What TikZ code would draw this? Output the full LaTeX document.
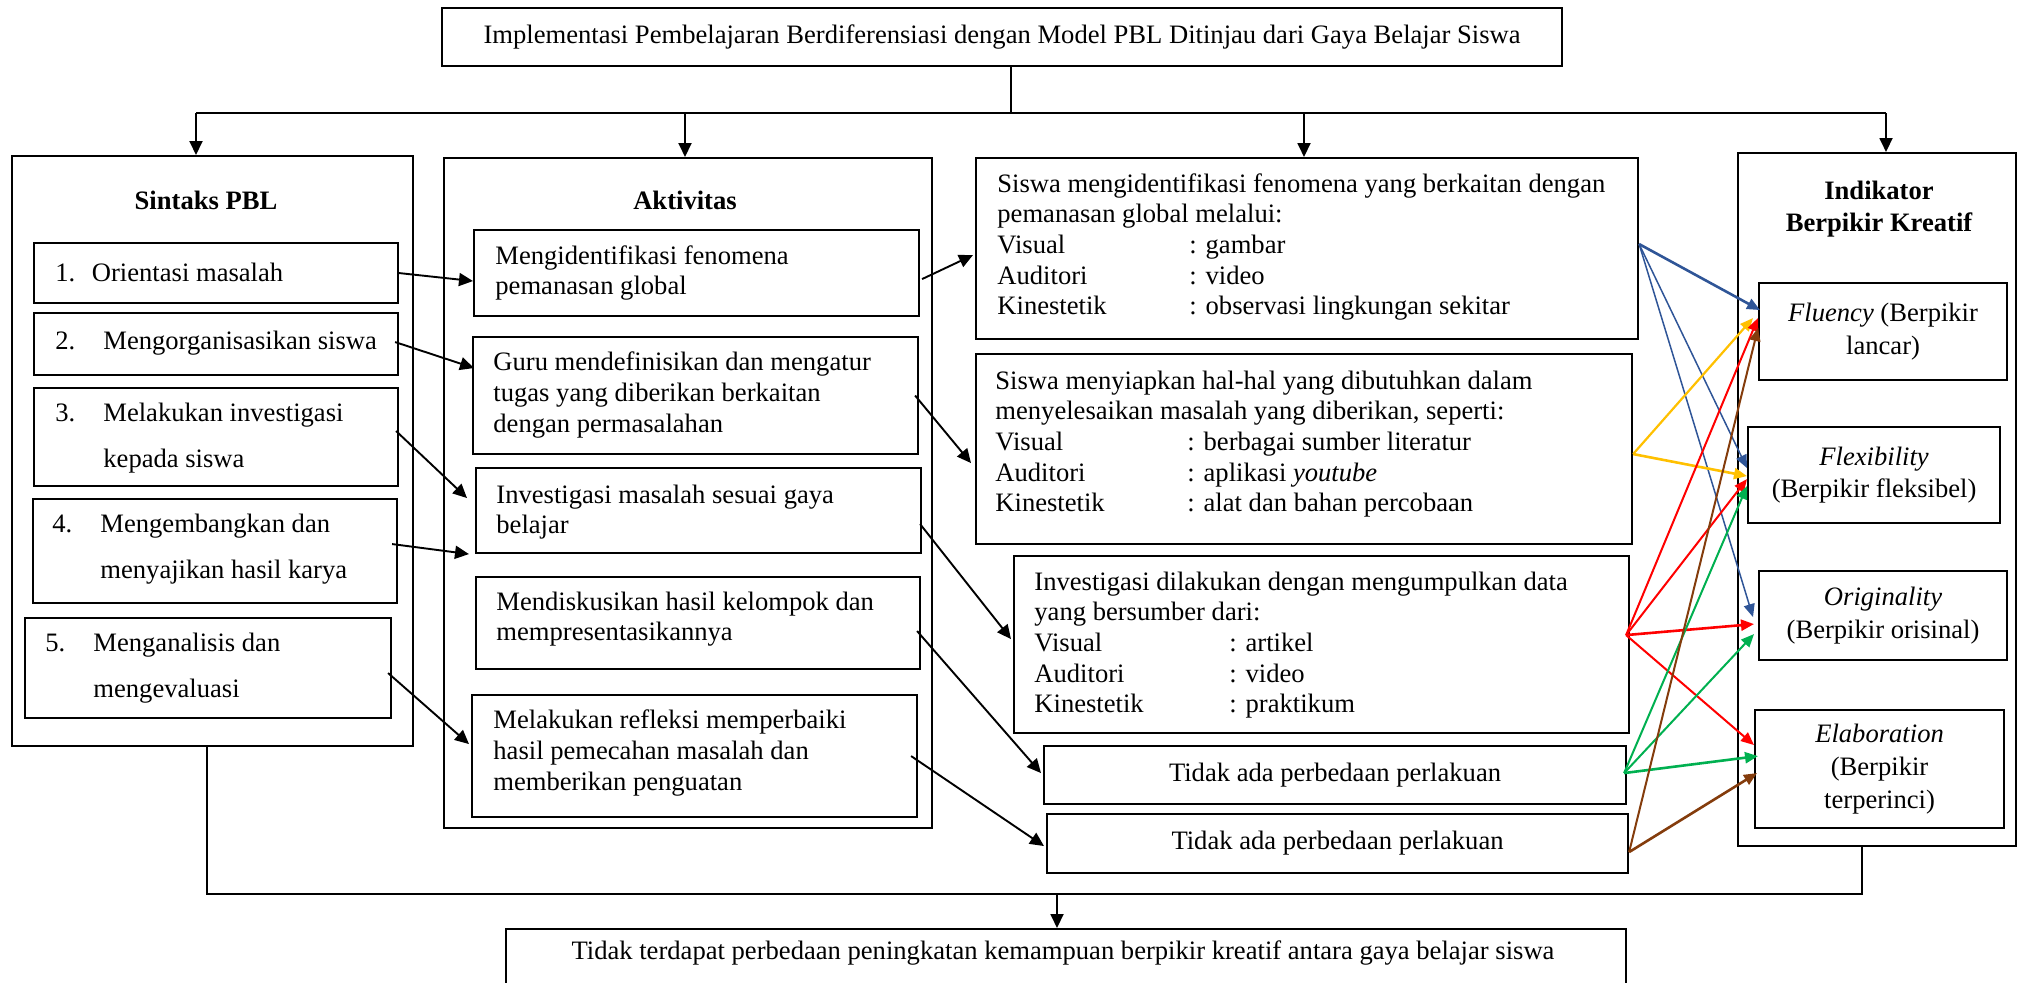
\documentclass[tikz,border=0pt]{standalone}
\usepackage{fontspec}
\setmainfont{Liberation Serif}
\usetikzlibrary{arrows.meta,calc}
\definecolor{cblue}{RGB}{47,85,151}
\definecolor{cyellow}{RGB}{255,192,0}
\definecolor{cred}{RGB}{255,0,0}
\definecolor{cgreen}{RGB}{0,176,80}
\definecolor{cbrown}{RGB}{132,60,12}
\newcommand\gayatab[1]{\makebox[96pt][l]{#1}}
\begin{document}
\begin{tikzpicture}[x=0.5pt,y=-0.5pt,
  every node/.style={font=\fontsize{13.3}{15.3}\selectfont},
  box/.style={draw, line width=1.05pt, anchor=north west, inner sep=0pt, align=center},
  txt/.style={anchor=west, align=left, inner sep=0pt},
  wide/.style={font=\fontsize{13.3}{23}\selectfont},
  ind/.style={font=\fontsize{13.3}{16.3}\selectfont},
  ttl/.style={font=\fontsize{13.3}{16}\selectfont\bfseries, align=center, inner sep=0pt},
  conn/.style={line width=0.9pt},
  arr/.style={-{Triangle[length=7pt,width=6.5pt]}, line width=0.95pt},
  carr/.style={-{Triangle[length=6.5pt,width=5.5pt]}, line width=0.75pt},
  cthk/.style={line width=1.3pt}]
\useasboundingbox (0,0) rectangle (2018,982);

% top box
\node[box, minimum width=560pt, minimum height=29pt] (T) at (441,7)
  {Implementasi Pembelajaran Berdiferensiasi dengan Model PBL Ditinjau dari Gaya Belajar Siswa};

% column containers
\node[box, minimum width=200.5pt, minimum height=295pt] (S) at (11,155) {};
\node[box, minimum width=244pt, minimum height=335pt] (A) at (443,157) {};
\node[box, minimum width=139pt, minimum height=346.5pt] (I) at (1737,152) {};

\node[ttl] (St) at (206,200) {Sintaks PBL};
\node[ttl] (At) at (685,200) {Aktivitas};
\node[ttl] (It) at (1879,209) {Indikator\\Berpikir Kreatif};

% Sintaks boxes
\node[box, minimum width=182pt, minimum height=30pt] (S1) at (33,242) {};
\node[box, minimum width=182pt, minimum height=31pt] (S2) at (33,312) {};
\node[box, minimum width=182pt, minimum height=49pt] (S3) at (33,387) {};
\node[box, minimum width=182pt, minimum height=52pt] (S4) at (32,498) {};
\node[box, minimum width=183pt, minimum height=50pt] (S5) at (24,617) {};
\node[txt] (S1t) at (55,272) {\makebox[18.25pt][l]{1.}Orientasi masalah};
\node[txt] (S2t) at (55,343) {\makebox[24pt][l]{2.}Mengorganisasikan siswa};
\node[txt, wide] (S3t) at (55,438) {\makebox[24pt][l]{3.}Melakukan investigasi\\\hspace*{24pt}kepada siswa};
\node[txt, wide] (S4t) at (52,549) {\makebox[24pt][l]{4.}Mengembangkan dan\\\hspace*{24pt}menyajikan hasil karya};
\node[txt, wide] (S5t) at (45,668) {\makebox[24pt][l]{5.}Menganalisis dan\\\hspace*{24pt}mengevaluasi};

% Aktivitas boxes
\node[box, minimum width=222.5pt, minimum height=43pt] (A1) at (473,229) {};
\node[box, minimum width=222.5pt, minimum height=58.5pt] (A2) at (472,336) {};
\node[box, minimum width=222.5pt, minimum height=42.5pt] (A3) at (475,467) {};
\node[box, minimum width=222pt, minimum height=46pt] (A4) at (475,576) {};
\node[box, minimum width=222.5pt, minimum height=61pt] (A5) at (471,694) {};
\node[txt] (A1t) at (495,273) {Mengidentifikasi fenomena\\pemanasan global};
\node[txt] (A2t) at (493,395) {Guru mendefinisikan dan mengatur\\tugas yang diberikan berkaitan\\dengan permasalahan};
\node[txt] (A3t) at (496,512) {Investigasi masalah sesuai gaya\\belajar};
\node[txt] (A4t) at (496,619) {Mendiskusikan hasil kelompok dan\\mempresentasikannya};
\node[txt] (A5t) at (493,753) {Melakukan refleksi memperbaiki\\hasil pemecahan masalah dan\\memberikan penguatan};

% gaya belajar boxes
\node[box, minimum width=331pt, minimum height=90.5pt] (B1) at (975,157) {};
\node[box, minimum width=328pt, minimum height=95pt] (B2) at (975,353) {};
\node[box, minimum width=307.5pt, minimum height=88.5pt] (B3) at (1013,555) {};
\node[box, minimum width=291pt, minimum height=29pt] (B4) at (1043,745) {Tidak ada perbedaan perlakuan};
\node[box, minimum width=290.5pt, minimum height=29.5pt] (B5) at (1046,813) {Tidak ada perbedaan perlakuan};
\node[txt] (B1t) at (997,247) {Siswa mengidentifikasi fenomena yang berkaitan dengan\\pemanasan global melalui:\\\gayatab{Visual}: gambar\\\gayatab{Auditori}: video\\\gayatab{Kinestetik}: observasi lingkungan sekitar};
\node[txt] (B2t) at (995,444) {Siswa menyiapkan hal-hal yang dibutuhkan dalam\\menyelesaikan masalah yang diberikan, seperti:\\\gayatab{Visual}: berbagai sumber literatur\\\gayatab{Auditori}: aplikasi \textit{youtube}\\\gayatab{Kinestetik}: alat dan bahan percobaan};
\node[txt] (B3t) at (1034,645) {Investigasi dilakukan dengan mengumpulkan data\\yang bersumber dari:\\\makebox[97.5pt][l]{Visual}: artikel\\\makebox[97.5pt][l]{Auditori}: video\\\makebox[97.5pt][l]{Kinestetik}: praktikum};

% indikator boxes
\node[box, ind, minimum width=124pt, minimum height=48.5pt] (I1) at (1758,282) {\textit{Fluency} (Berpikir\\lancar)};
\node[box, ind, minimum width=126pt, minimum height=48pt] (I2) at (1747,426) {\textit{Flexibility}\\(Berpikir fleksibel)};
\node[box, ind, minimum width=124pt, minimum height=44.5pt] (I3) at (1758,570) {\textit{Originality}\\(Berpikir orisinal)};
\node[box, ind, minimum width=124.5pt, minimum height=59pt] (I4) at (1754,709) {\textit{Elaboration}\\(Berpikir\\terperinci)};

% bottom box (runs past the lower edge)
\node[box, minimum width=560pt, minimum height=36pt] (BT) at (505,928) {};
\node[inner sep=0pt] (BTt) at (1063,953) {Tidak terdapat perbedaan peningkatan kemampuan berpikir kreatif antara gaya belajar siswa};

% top distribution
\coordinate (J) at (1011,113);
\coordinate (h1) at (196,113);
\coordinate (h2) at (685,113);
\coordinate (h3) at (1304,113);
\coordinate (h4) at (1886,113);
\draw[conn] (T.south -| J) -- (J);
\draw[conn] (h1) -- (h4);
\draw[arr] (h1) -- (h1 |- S.north);
\draw[arr] (h2) -- (h2 |- A.north);
\draw[arr] (h3) -- (h3 |- B1.north);
\draw[arr] (h4) -- (h4 |- I.north);

% bottom collection
\coordinate (b1) at (207,894);
\coordinate (b2) at (1862,894);
\coordinate (b3) at (1057,894);
\draw[conn] (S.south -| b1) -- (b1) -- (b2) -- (I.south -| b2);
\draw[arr] (b3) -- (b3 |- BT.north);

% sintaks -> aktivitas
\draw[arr] (S1.east) -- ([yshift=-4pt]A1.west);
\draw[arr] ([xshift=-2pt,yshift=1pt]S2.east) -- ([xshift=1pt,yshift=13.75pt]A2.west);
\draw[arr] ([xshift=-1.5pt,yshift=3pt]S3.east) -- ([xshift=-4pt,yshift=6.25pt]A3.west);
\draw[arr] ([xshift=-3pt,yshift=3.5pt]S4.east) -- ([xshift=-3pt]A3.south west);
\draw[arr] ([xshift=-2pt,yshift=-2.5pt]S5.east) -- ([xshift=-1pt,yshift=6pt]A5.west);

% aktivitas -> gaya belajar
\draw[arr] ([xshift=1pt,yshift=-3pt]A1.east) -- ([xshift=-1pt,yshift=-3.25pt]B1.west);
\draw[arr] ([xshift=-2pt]A2.east) -- ([xshift=-2pt,yshift=-7pt]B2.west);
\draw[arr] ([xshift=-1pt,yshift=-6.75pt]A3.east) -- ([xshift=-1pt,yshift=2.75pt]B3.west);
\draw[arr] ([xshift=-2pt,yshift=-4pt]A4.east) -- ([xshift=-1pt,yshift=1pt]B4.west);
\draw[arr] ([xshift=-3.5pt]A5.east) -- ([xshift=-1pt,yshift=-1.25pt]B5.west);

% coloured links
\draw[carr, cblue, cthk] ([yshift=2.25pt]B1.east) -- ([xshift=1pt,yshift=10.75pt]I1.west);
\draw[carr, cblue] ([yshift=2.25pt]B1.east) -- ([yshift=3.5pt]I2.west);
\draw[carr, cblue] ([yshift=2.25pt]B1.east) -- ([xshift=-2.5pt,yshift=-0.75pt]I3.west);

\draw[carr, cyellow, line width=1.1pt] ([yshift=-2.5pt]B2.east) -- ([xshift=-2.5pt,yshift=6.75pt]I1.west);
\draw[carr, cyellow, cthk] ([yshift=-2.5pt]B2.east) -- ([yshift=-0.5pt]I2.west);

\draw[carr, cred, line width=1pt] ([xshift=-2pt,yshift=4.75pt]B3.east) -- ([yshift=6.75pt]I1.west);
\draw[carr, cred, line width=1pt] ([xshift=-2pt,yshift=4.75pt]B3.east) -- ([yshift=-2pt]I2.west);
\draw[carr, cred, cthk] ([xshift=-2pt,yshift=4.75pt]B3.east) -- ([xshift=-2pt,yshift=-4.25pt]I3.west);
\draw[carr, cred, line width=1pt] ([xshift=-2pt,yshift=4.75pt]B3.east) -- ([yshift=12pt]I4.west);

\draw[carr, cgreen, line width=1pt] ([xshift=-1.5pt,yshift=1pt]B4.east) -- ([yshift=-5.5pt]I2.west);
\draw[carr, cgreen, line width=1pt] ([xshift=-1.5pt,yshift=1pt]B4.east) -- ([xshift=-2pt,yshift=-9.25pt]I3.west);
\draw[carr, cgreen, cthk] ([xshift=-1.5pt,yshift=1pt]B4.east) -- ([xshift=2pt,yshift=6.5pt]I4.west);

\draw[carr, cbrown, line width=1pt] ([yshift=-4.25pt]B5.east) -- ([yshift=1.75pt]I1.west);
\draw[carr, cbrown, cthk] ([yshift=-4.25pt]B5.east) -- ([xshift=1.5pt,yshift=-2pt]I4.west);
\end{tikzpicture}
\end{document}
